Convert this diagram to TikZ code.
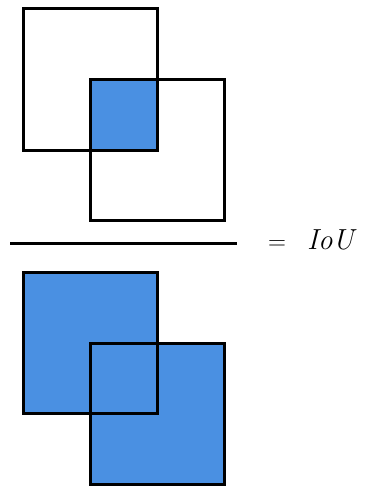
\documentclass[tikz,border=0pt]{standalone}
\definecolor{ioublue}{HTML}{4A90E2}
\begin{document}
\begin{tikzpicture}[x=1pt,y=-1pt,
  boxline/.style={draw=black,line width=3pt},
  lbl/.style={anchor=base west,inner sep=0pt,font=\fontsize{29}{33}\selectfont}]
\useasboundingbox (0,0) rectangle (366,487);
% top: intersection
\fill[ioublue] (90,79) rectangle (157,150);
\draw[boxline] (23,9) rectangle (157,150);
\draw[boxline] (90,79) rectangle (224,220);
% fraction bar
\draw[line width=3pt] (10,243) -- (237,243);
% bottom: union
\fill[ioublue] (23,272) rectangle (157,413);
\fill[ioublue] (90,343) rectangle (224,484);
\draw[boxline] (23,272) rectangle (157,413);
\draw[boxline] (90,343) rectangle (224,484);
% label
\node[lbl] (eq) at (268,249) {$=$};
\node[lbl] (iou) at (307,249) {\textit{IoU}};
\end{tikzpicture}
\end{document}
